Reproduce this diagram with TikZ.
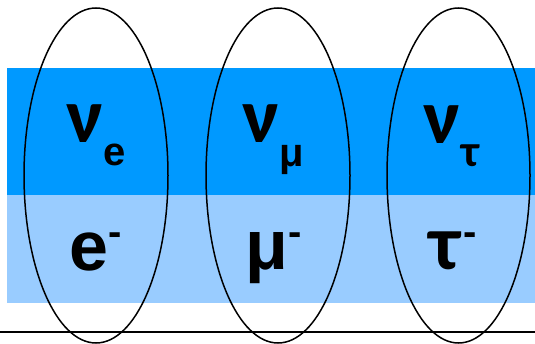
\documentclass[tikz,border=0pt]{standalone}
\usepackage{fontspec}
\setmainfont{Liberation Sans}
\newfontfamily\griega{Carlito}
\definecolor{bandoscuro}{RGB}{0,153,255}
\definecolor{bandoclaro}{RGB}{153,204,255}
\tikzset{
  letra/.style={inner sep=0pt, anchor=base, font=\fontsize{70}{70}\selectfont\bfseries},
  indice/.style={inner sep=0pt, anchor=base, font=\fontsize{40}{40}\selectfont\bfseries},
  letragr/.style={inner sep=0pt, anchor=base, font=\fontsize{78}{78}\selectfont\bfseries\griega},
  indicegr/.style={inner sep=0pt, anchor=base, font=\fontsize{45}{45}\selectfont\bfseries\griega},
  familia/.style={line width=1.5pt}
}
\begin{document}
\begin{tikzpicture}[x=1pt,y=-1pt] % un punto por pixel, y hacia abajo

    \useasboundingbox (0,0) rectangle (535,344);

    % Bandas de color
    \fill[bandoscuro] (7,68) rectangle (535,195);
    \fill[bandoclaro] (7,195) rectangle (535,303);

    % Linea inferior
    \draw[line width=1.5pt] (0,332) -- (535,332);

    % Neutrinos
    \node[letragr] (nue) at (84.5,143) {ν};
    \node[indice] (nue-sub) at (114.5,166) {e};
    \node[letragr] (numu) at (260.5,143) {ν};
    \node[indice] (numu-sub) at (292,167) {μ};
    \node[letragr] (nutau) at (441.5,144) {ν};
    \node[indicegr] (nutau-sub) at (470,167) {τ};

    % Leptones cargados
    \node[letra] (e) at (88.5,271) {e};
    \node[indice] (e-sup) at (115.5,246) {-};
    \node[letra] (mu) at (266.5,270) {μ};
    \node[indice] (mu-sup) at (295,246) {-};
    \node[letragr] (tau) at (445,270) {τ};
    \node[indice] (tau-sup) at (470,246) {-};

    % Elipses de cada familia
    \draw[familia] (96,175.5) ellipse[x radius=72, y radius=167.5];
    \draw[familia] (278,175.5) ellipse[x radius=72, y radius=167.5];
    \draw[familia] (458.5,175.5) ellipse[x radius=71.5, y radius=167.5];

\end{tikzpicture}
\end{document}
